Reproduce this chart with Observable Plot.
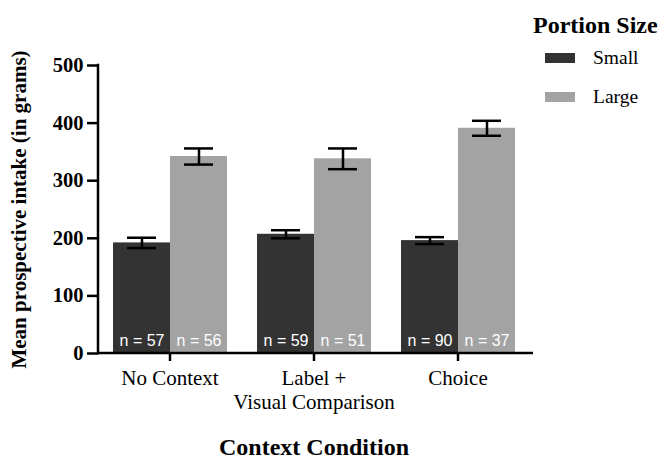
<!DOCTYPE html>
<html><head><meta charset="utf-8">
<script src="https://cdn.jsdelivr.net/npm/d3@7"></script>
<script src="https://cdn.jsdelivr.net/npm/@observablehq/plot@0.6"></script>
<style>
body{margin:0;background:#fff;}
#wrap{position:relative;width:665px;height:463px;}
#wrap svg{display:block;}
.lg{position:absolute;font-family:"Liberation Serif",serif;color:#000;white-space:nowrap;line-height:1;}
.sw{position:absolute;width:30px;height:10px;}
</style></head><body>
<div id="wrap"></div>
<script>
const conditions = ["No Context", "Label +\nVisual Comparison", "Choice"];
const sizes = ["Small", "Large"];
const smallMeans = [192, 207, 196];
const largeMeans = [342, 338, 391];
const smallSE = [9, 7, 6];
const largeSE = [14, 18, 13];
const smallN = [57, 59, 90];
const largeN = [56, 51, 37];
const yTicks = [0, 100, 200, 300, 400, 500];
const colors = ["#333333", "#a3a3a3"];
const legendTitle = "Portion Size";
const yLabel = "Mean prospective intake (in grams)";
const xLabel = "Context Condition";

const data = [];
conditions.forEach((c, i) => {
  data.push({condition: c, size: "Small", mean: smallMeans[i], se: smallSE[i], n: smallN[i]});
  data.push({condition: c, size: "Large", mean: largeMeans[i], se: largeSE[i], n: largeN[i]});
});
const lo = d => d.mean - d.se;
const hi = d => d.mean + d.se;

const W = 665, H = 463, ML = 98, MR = 135, MT = 65, MB = 110;

function makePlot(shift) {
  return Plot.plot({
    width: W, height: H,
    marginLeft: ML, marginRight: MR, marginTop: MT, marginBottom: MB,
    style: {fontFamily: "'Liberation Serif', serif", background: "white", color: "black"},
    fx: {domain: conditions, paddingInner: 0.2, paddingOuter: 0.1, label: xLabel},
    x: {domain: sizes, padding: 0, axis: null},
    y: {domain: [0, 500], label: yLabel},
    color: {domain: sizes, range: colors},
    marks: [
      Plot.barY(data, {fx: "condition", x: "size", y: "mean", fill: "size"}),
      Plot.ruleX(data, {fx: "condition", x: "size", y1: lo, y2: hi, stroke: "black", strokeWidth: 2.5}),
      Plot.tickY(data, {fx: "condition", x: "size", y: lo, stroke: "black", strokeWidth: 2.5, inset: 14}),
      Plot.tickY(data, {fx: "condition", x: "size", y: hi, stroke: "black", strokeWidth: 2.5, inset: 14}),
      Plot.text(data, {fx: "condition", x: "size", y: 0, text: d => "n = " + d.n, dy: -12.5, fill: "white",
        fontFamily: "'Liberation Sans', sans-serif", fontSize: 16, ariaLabel: "n labels"}),
      Plot.axisY({ticks: yTicks, tickSize: 11, tickPadding: 4, fontSize: 20.5, fontWeight: "bold",
        strokeWidth: 2.5, label: null, dx: -shift}),
      Plot.axisY({ticks: [], label: yLabel, labelAnchor: "center", labelArrow: "none", labelOffset: 101,
        fontSize: 21, fontWeight: "bold", dx: -shift, dy: 6}),
      Plot.axisFx({anchor: "bottom", tickSize: 8, tickPadding: 6, fontSize: 21, lineHeight: 1.15,
        strokeWidth: 2.5, label: null}),
      Plot.axisFx({anchor: "bottom", ticks: [], label: xLabel, labelAnchor: "center", labelArrow: "none",
        labelOffset: 101, fontSize: 24, fontWeight: "bold"})
    ]
  });
}

// first pass: read how far the leftmost facet sits from the left margin
const probe = makePlot(0);
const shift = probe.scale("fx").apply(conditions[0]) - ML;
const plot = makePlot(shift);

// axis lines drawn through the plot's own scales
const ys = plot.scale("y");
const svg = d3.select(plot.tagName.toLowerCase() === "svg" ? plot : plot.querySelector("svg"));
const y0 = ys.apply(0), y500 = ys.apply(500);
svg.append("line").attr("x1", ML).attr("x2", W - MR + 3).attr("y1", y0).attr("y2", y0)
  .attr("stroke", "black").attr("stroke-width", 2.5);
svg.append("line").attr("x1", ML).attr("x2", ML).attr("y1", y0 + 1.25).attr("y2", y500 - 1.25)
  .attr("stroke", "black").attr("stroke-width", 2.5);

// italic n
svg.selectAll('g[aria-label="n labels"] text').each(function() {
  const t = d3.select(this);
  const s = t.text();
  const rest = s.slice(1);
  t.text("");
  t.append("tspan").attr("font-style", "italic").text("n");
  t.append("tspan").text(rest);
});

const wrap = document.getElementById("wrap");
wrap.appendChild(plot);

function addDiv(cls, styles, text) {
  const d = document.createElement("div");
  d.className = cls;
  Object.assign(d.style, styles);
  if (text) d.textContent = text;
  wrap.appendChild(d);
}
addDiv("lg", {left: "533px", top: "13px", fontSize: "24px", fontWeight: "bold"}, legendTitle);
sizes.forEach((s, i) => {
  addDiv("sw", {left: "545px", top: (53 + i * 39) + "px", background: colors[i]});
  addDiv("lg", {left: "593px", top: (48 + i * 39) + "px", fontSize: "19.5px"}, s);
});
</script>
</body></html>
